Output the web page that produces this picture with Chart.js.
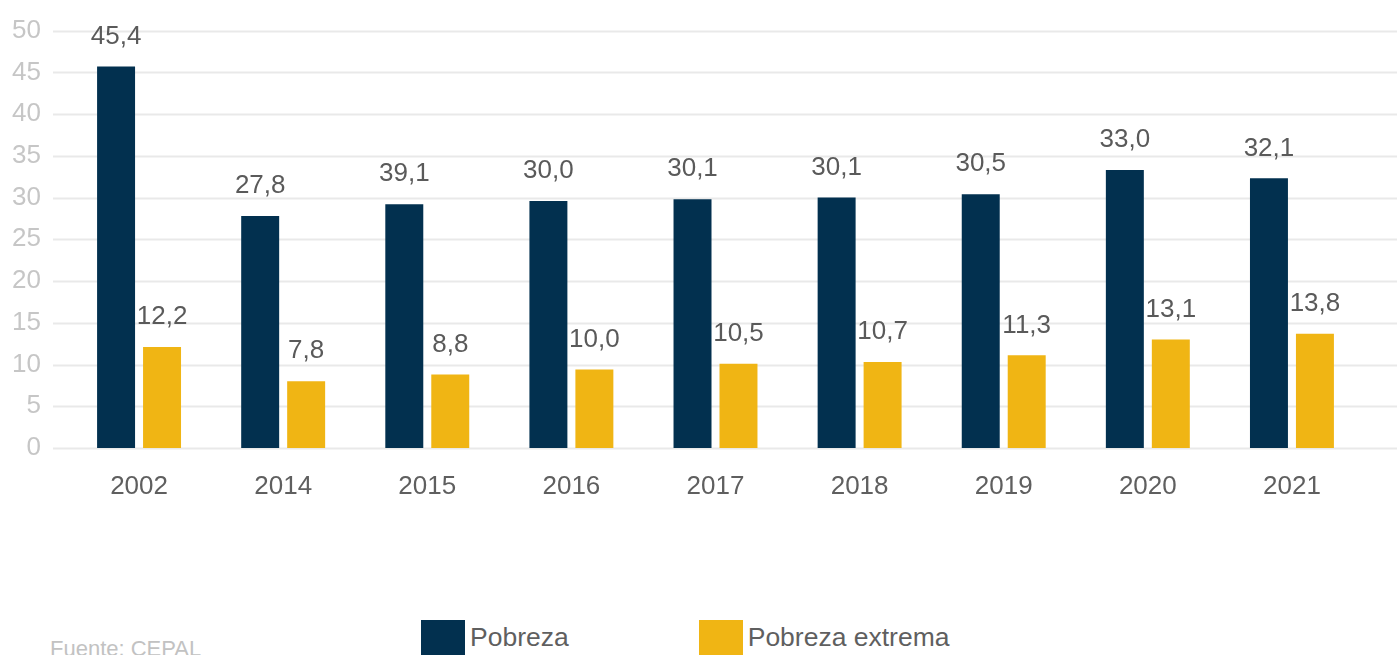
<!DOCTYPE html>
<html>
<head>
<meta charset="utf-8">
<script src="https://cdn.jsdelivr.net/npm/chart.js@4"></script>
<style>
  html, body { margin: 0; padding: 0; background: #fff; overflow: hidden; }
  #page { position: relative; width: 1397px; height: 655px; overflow: hidden; font-family: "Liberation Sans", Arial, Helvetica, sans-serif; }
  #box { position: absolute; left: 0; top: -11.5px; width: 1397px; height: 531.5px; }
  #legend { position: absolute; top: 620px; left: 421px; display: flex; }
  .item { display: flex; align-items: flex-start; margin-right: 130px; }
  .sw { width: 44px; height: 44px; margin-right: 5px; }
  .lbl { font-size: 26.5px; line-height: 26.5px; color: #5f5f5f; margin-top: 4px; }
  #fuente { position: absolute; left: 50px; top: 638px; font-size: 22px; line-height: 22px; color: #c2c2c2; }
</style>
</head>
<body>
<div id="page">
  <div id="box"><canvas id="grafico"></canvas></div>
  <div id="legend"></div>
  <div id="fuente">Fuente: CEPAL</div>
</div>
<script>
    // Datos
    const anios = ['2002', '2014', '2015', '2016', '2017', '2018', '2019', '2020', '2021'];
    const pobreza = [45.7, 27.8, 29.2, 29.6, 29.8, 30.0, 30.4, 33.3, 32.3];
    const pobrezaExtrema = [12.1, 8.0, 8.8, 9.4, 10.1, 10.3, 11.1, 13.0, 13.7];
    // etiquetas tal como aparecen sobre las barras
    const etiquetasPobreza = ['45,4', '27,8', '39,1', '30,0', '30,1', '30,1', '30,5', '33,0', '32,1'];
    const etiquetasExtrema = ['12,2', '7,8', '8,8', '10,0', '10,5', '10,7', '11,3', '13,1', '13,8'];
    const ticksY = [0, 5, 10, 15, 20, 25, 30, 35, 40, 45, 50];

    const fuente = '"Liberation Sans", Arial, Helvetica, sans-serif';

    // Líneas de fondo que van de borde a borde
    const lineasFondo = {
        id: 'lineasFondo',
        beforeDatasetsDraw(chart) {
            const ctx = chart.ctx;
            const y = chart.scales.y;
            ctx.save();
            ctx.strokeStyle = '#e9e9e9';
            ctx.lineWidth = 2;
            ticksY.forEach(v => {
                const py = Math.round(y.getPixelForValue(v)) + 0.5;
                ctx.beginPath();
                ctx.moveTo(53, py);
                ctx.lineTo(chart.width, py);
                ctx.stroke();
            });
            ctx.restore();
        }
    };

    // Valores encima de cada barra
    const valores = {
        id: 'valores',
        afterDatasetsDraw(chart) {
            const ctx = chart.ctx;
            ctx.save();
            ctx.font = '26px ' + fuente;
            ctx.fillStyle = '#5a5a5a';
            ctx.textAlign = 'center';
            ctx.textBaseline = 'middle';
            chart.data.datasets.forEach((ds, d) => {
                chart.getDatasetMeta(d).data.forEach((bar, i) => {
                    ctx.fillText(ds.etiquetas[i], bar.x, bar.y - 30);
                });
            });
            ctx.restore();
        }
    };

    const chart = new Chart(document.getElementById('grafico'), {
        type: 'bar',
        data: {
            labels: anios,
            datasets: [
                { label: 'Pobreza', data: pobreza, etiquetas: etiquetasPobreza, backgroundColor: '#02304f' },
                { label: 'Pobreza extrema', data: pobrezaExtrema, etiquetas: etiquetasExtrema, backgroundColor: '#f0b514' }
            ]
        },
        options: {
            responsive: true,
            maintainAspectRatio: false,
            animation: false,
            categoryPercentage: 0.638,
            barPercentage: 0.826,
            layout: { padding: { left: 0, right: 33, top: 18, bottom: 0 } },
            plugins: { legend: { display: false }, tooltip: { enabled: false } },
            scales: {
                x: {
                    grid: { display: false, drawTicks: false },
                    border: { display: false },
                    ticks: { color: '#5f5f5f', font: { size: 26, family: fuente }, padding: 23.5, maxRotation: 0 },
                    afterFit: s => { s.height = 72.5; }
                },
                y: {
                    min: 0, max: 50,
                    grid: { display: false, drawTicks: false },
                    border: { display: false },
                    ticks: { stepSize: 5, color: '#c6c6c6', font: { size: 26, family: fuente }, padding: 26 },
                    afterFit: s => { s.width = 67; }
                }
            }
        },
        plugins: [lineasFondo, valores]
    });

    // Leyenda propia debajo del gráfico
    document.getElementById('legend').innerHTML = chart.data.datasets.map(ds => `
        <div class="item"><div class="sw" style="background:${ds.backgroundColor}"></div><div class="lbl">${ds.label}</div></div>
    `).join('');
</script>
</body>
</html>
